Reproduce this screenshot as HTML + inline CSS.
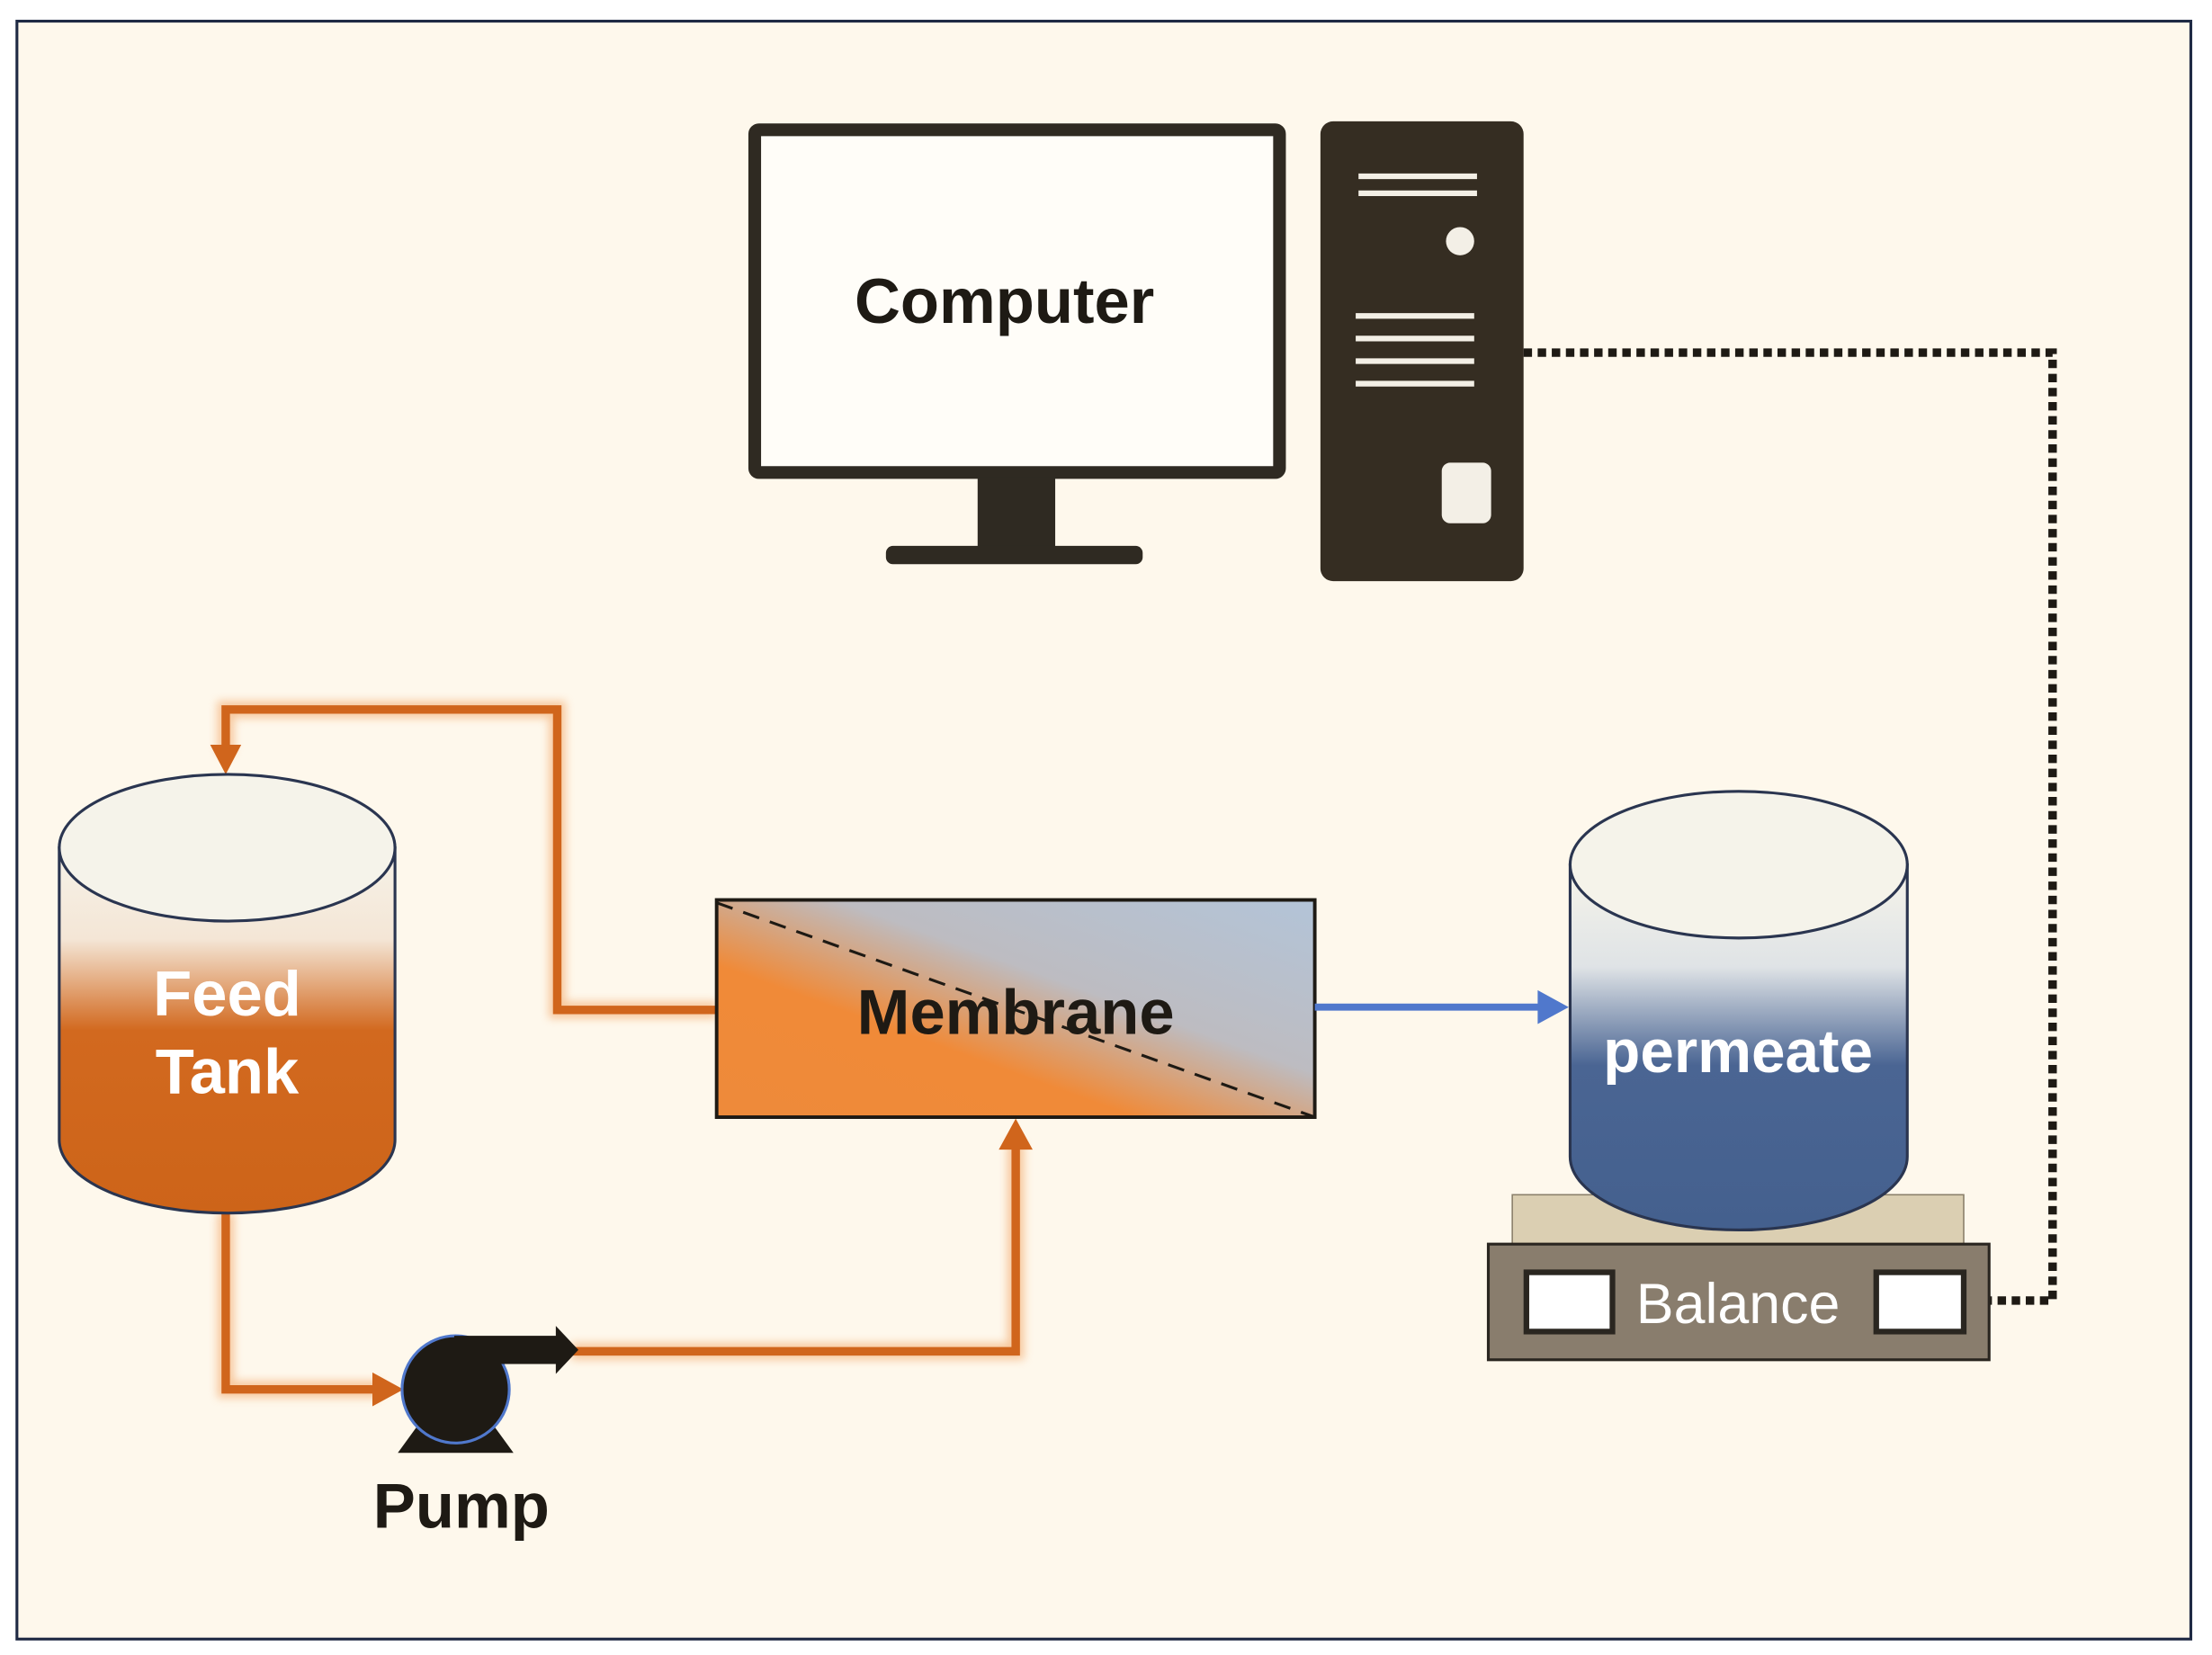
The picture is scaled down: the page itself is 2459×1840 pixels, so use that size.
<!DOCTYPE html>
<html><head><meta charset="utf-8"><style>
html,body{margin:0;padding:0;background:#fff;}
svg{display:block;}
text{font-family:"Liberation Sans",sans-serif;}
</style></head><body>
<svg width="2459" height="1840" viewBox="0 0 1568 1173.3" preserveAspectRatio="none" xmlns="http://www.w3.org/2000/svg">
<defs>
<linearGradient id="feed" x1="0" y1="0" x2="0" y2="1">
<stop offset="0" stop-color="#f6f2e8"/><stop offset="0.25" stop-color="#f4e6d6"/><stop offset="0.5" stop-color="#d2691f"/><stop offset="1" stop-color="#cd6419"/>
</linearGradient>
<linearGradient id="perm" x1="0" y1="0" x2="0" y2="1">
<stop offset="0" stop-color="#f6f4ea"/><stop offset="0.28" stop-color="#dfe3e6"/><stop offset="0.55" stop-color="#4a6593"/><stop offset="1" stop-color="#44608e"/>
</linearGradient>
<linearGradient id="mem" x1="0" y1="1" x2="1" y2="0">
<stop offset="0" stop-color="#ee8a3a"/><stop offset="0.35" stop-color="#f08a38"/><stop offset="0.6" stop-color="#bdbcc1"/><stop offset="1" stop-color="#b3c4d8"/>
</linearGradient>
<filter id="glow" x="-10%" y="-10%" width="120%" height="120%"><feGaussianBlur stdDeviation="3"/></filter>
</defs>
<rect x="0" y="0" width="1568" height="1174" fill="#ffffff"/>
<rect x="12" y="15" width="1541" height="1147" fill="#fef8ec" stroke="#1f2a44" stroke-width="2"/>

<rect x="535" y="92" width="372" height="243" fill="#fffdf8" stroke="#2f2a22" stroke-width="9" rx="3"/>
<rect x="693" y="338" width="55" height="52" fill="#2f2a22"/>
<rect x="628" y="387" width="182" height="13" rx="5" fill="#2f2a22"/>
<text x="712" y="229" font-size="45" font-weight="bold" text-anchor="middle" fill="#1e1a14">Computer</text>

<rect x="936" y="86" width="144" height="326" rx="9" fill="#352d22"/>
<g stroke="#f3efe6" stroke-width="4">
<line x1="963" y1="125" x2="1047" y2="125"/><line x1="963" y1="137" x2="1047" y2="137"/>
<line x1="961" y1="224" x2="1045" y2="224"/><line x1="961" y1="240" x2="1045" y2="240"/>
<line x1="961" y1="256" x2="1045" y2="256"/><line x1="961" y1="272" x2="1045" y2="272"/>
</g>
<circle cx="1035" cy="171" r="10" fill="#f3efe6"/>
<rect x="1022" y="328" width="35" height="43" rx="6" fill="#f3efe6"/>

<polyline points="1080,250 1455,250 1455,922 1410,922" fill="none" stroke="#1e1a14" stroke-width="6" stroke-dasharray="6 4"/>

<g fill="none" stroke="#f3a86a" stroke-width="12" opacity="0.6" filter="url(#glow)">
<polyline points="508,716 395,716 395,503 160,503 160,535"/>
<polyline points="160,860 160,985 270,985"/>
<polyline points="405,958 720,958 720,810"/>
</g>
<g fill="none" stroke="#d0651c" stroke-width="6">
<polyline points="508,716 395,716 395,503 160,503 160,535"/>
<polyline points="160,860 160,985 270,985"/>
<polyline points="405,958 720,958 720,810"/>
</g>
<polygon points="149,528 171,528 160,549" fill="#d0651c"/>
<polygon points="264,973 286,985 264,997" fill="#d0651c"/>
<polygon points="708,815 732,815 720,793" fill="#d0651c"/>

<path d="M42,601 L42,808 A119,52 0 0 0 280,808 L280,601 Z" fill="url(#feed)" stroke="#2a3550" stroke-width="2"/>
<ellipse cx="161" cy="601" rx="119" ry="52" fill="#f5f3ea" stroke="#2a3550" stroke-width="2"/>
<text x="161" y="720" font-size="45" font-weight="bold" text-anchor="middle" fill="#fff">Feed</text>
<text x="161" y="775" font-size="45" font-weight="bold" text-anchor="middle" fill="#fff">Tank</text>

<rect x="508" y="638" width="424" height="154" fill="url(#mem)" stroke="#1e1a14" stroke-width="2.5"/>
<line x1="508" y1="640" x2="932" y2="792" stroke="#1e1a14" stroke-width="2" stroke-dasharray="12 8"/>
<text x="720" y="733" font-size="45" font-weight="bold" text-anchor="middle" fill="#1e1a14">Membrane</text>

<line x1="932" y1="714" x2="1095" y2="714" stroke="#a9c0ec" stroke-width="12" opacity="0.6" filter="url(#glow)"/>
<line x1="932" y1="714" x2="1095" y2="714" stroke="#5078cc" stroke-width="5"/>
<polygon points="1090,702 1112,714 1090,726" fill="#5078cc"/>

<rect x="1072" y="847" width="320" height="35" fill="#dbcfb2" stroke="#8a7f6a" stroke-width="1"/>
<rect x="1055" y="882" width="355" height="82" fill="#897d6d" stroke="#2a2620" stroke-width="2"/>
<rect x="1082" y="902" width="61" height="42" fill="#fff" stroke="#2a2620" stroke-width="4"/>
<rect x="1330" y="902" width="62" height="42" fill="#fff" stroke="#2a2620" stroke-width="4"/>
<text x="1232" y="938" font-size="40" text-anchor="middle" fill="#fff">Balance</text>

<path d="M1113,613 L1113,820 A119.5,52 0 0 0 1352,820 L1352,613 Z" fill="url(#perm)" stroke="#2a3550" stroke-width="2"/>
<ellipse cx="1232.5" cy="613" rx="119.5" ry="52" fill="#f5f3ea" stroke="#2a3550" stroke-width="2"/>
<text x="1232" y="760" font-size="43" font-weight="bold" text-anchor="middle" fill="#fff">permeate</text>

<polygon points="298,1008 348,1008 364,1030 282,1030" fill="#1e1a14"/>
<circle cx="323" cy="985" r="38" fill="#1e1a14" stroke="#5078cc" stroke-width="2"/>
<rect x="322" y="947" width="76" height="20" fill="#1e1a14"/>
<polygon points="394,940 410,957 394,974" fill="#1e1a14"/>
<text x="327" y="1083" font-size="45" font-weight="bold" text-anchor="middle" fill="#1e1a14">Pump</text>
</svg>
</body></html>
